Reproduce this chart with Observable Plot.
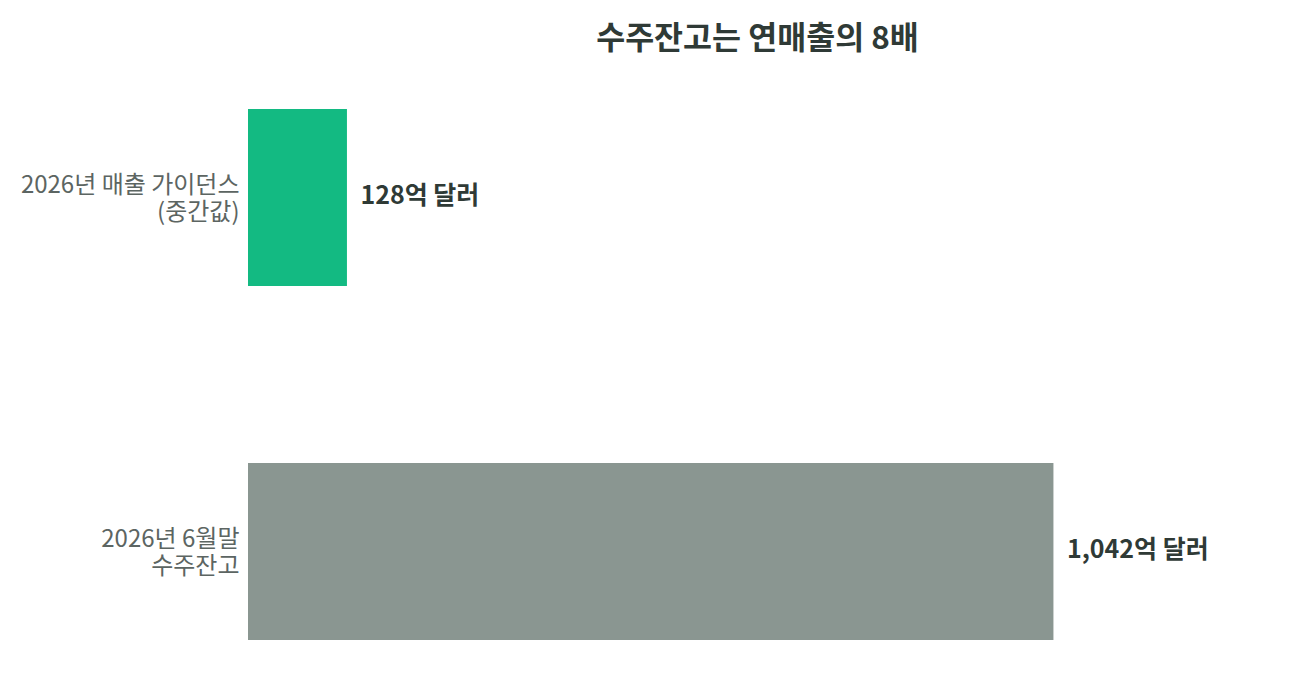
<!DOCTYPE html>
<html>
<head>
<meta charset="utf-8">
<script src="https://cdn.jsdelivr.net/npm/d3@7"></script>
<script src="https://cdn.jsdelivr.net/npm/@observablehq/plot@0.6"></script>
<style>
  html, body { margin: 0; padding: 0; background: #fff; }
  #chart { width: 1290px; height: 690px; }
</style>
</head>
<body>
<div id="chart"></div>
<script>
const title = "수주잔고는 연매출의 8배";
const categories = ["2026년 매출 가이던스\n(중간값)", "2026년 6월말\n수주잔고"];
const values = [128, 1042];
const valueLabels = ["128억 달러", "1,042억 달러"];
const colors = ["#13ba82", "#8a9691"];

const data = categories.map((c, i) => ({ category: c, value: values[i], label: valueLabels[i], color: colors[i] }));

const font = "'Noto Sans CJK KR', 'Noto Sans', sans-serif";

const chart = Plot.plot({
  width: 1290,
  height: 690,
  marginLeft: 248,
  marginRight: 24,
  marginTop: 72.5,
  marginBottom: 14.5,
  style: { fontFamily: font, background: "#fff" },
  x: { domain: [0, 1317], axis: null },
  y: { domain: categories, paddingInner: 0.5, paddingOuter: 0.1, label: null },
  marks: [
    Plot.barX(data, { y: "category", x: "value", fill: "color" }),
    Plot.text(data, {
      y: "category", x: "value", text: "label", textAnchor: "start", dx: 13, dy: -2,
      fontSize: 25, fontWeight: "bold", fill: "#2f3a36"
    }),
    Plot.axisY({ tickSize: 0, tickPadding: 9, fontSize: 24, color: "#5c6562", lineHeight: 1.12, label: null }),
    Plot.text([title], {
      frameAnchor: "top", dy: -34.5, lineAnchor: "middle",
      fontSize: 31.5, fontWeight: "bold", fill: "#2f3a36"
    })
  ]
});
document.getElementById("chart").appendChild(chart);
</script>
</body>
</html>
